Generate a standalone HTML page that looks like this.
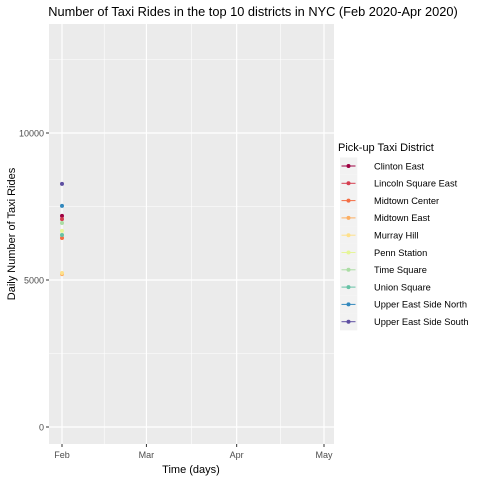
<!DOCTYPE html>
<html><head><meta charset="utf-8"><style>
body{margin:0;background:#fff;font-family:"Liberation Sans",Arial,sans-serif}
svg text{font-family:"Liberation Sans",Arial,sans-serif}
</style></head><body>
<svg id="c" width="480" height="480" xmlns="http://www.w3.org/2000/svg"></svg>
<script>
const districts=["Clinton East","Lincoln Square East","Midtown Center","Midtown East","Murray Hill","Penn Station","Time Square","Union Square","Upper East Side North","Upper East Side South"];
const colors=["#9E0142","#D53E4F","#F46D43","#FDAE61","#FEE08B","#E6F598","#ABDDA4","#66C2A5","#3288BD","#5E4FA2"];
const rides=[7180,7070,6430,5200,5240,6670,6940,6530,7520,8270];
const dayOffset=[0,0,0,0,0,0,0,0,0,0];
const yTicks=[0,5000,10000];
const xTickLabels=["Feb","Mar","Apr","May"];
const xTickDays=[0,29,60,90];
const NS="http://www.w3.org/2000/svg";
const svg=document.getElementById('c');
const L=49,R=334,T=24,B=444;
const yMin=-578,yMax=13707;
const x0=62,pxPerDay=(324-62)/90;
function xs(d){return x0+d*pxPerDay;}
function ys(v){return B-(v-yMin)/(yMax-yMin)*(B-T);}
function el(t,a,p){const e=document.createElementNS(NS,t);for(const k in a)e.setAttribute(k,a[k]);(p||svg).appendChild(e);return e;}
const panel=el('rect',{x:L,y:T,width:R-L,height:B-T,fill:'#EBEBEB'});


for(let i=0;i<yTicks.length;i++){const v=yTicks[i]+2500;const g=el('line',{x1:L,x2:R,y1:ys(v),y2:ys(v),stroke:'#fff','stroke-width':0.6});

}
for(let i=0;i<xTickDays.length-1;i++){const d=(xTickDays[i]+xTickDays[i+1])/2;const g=el('line',{x1:xs(d),x2:xs(d),y1:T,y2:B,stroke:'#fff','stroke-width':0.6});

}
yTicks.forEach(v=>{const y=ys(v);
const g=el('line',{x1:L,x2:R,y1:y,y2:y,stroke:'#fff','stroke-width':1.2});


el('line',{x1:L-3,x2:L,y1:y,y2:y,stroke:'#333','stroke-width':1});
const t=el('text',{x:L-5,y:y+3.5,'text-anchor':'end','font-size':9,fill:'#4D4D4D'});t.textContent=v;

});
xTickDays.forEach((d,i)=>{const x=xs(d);
const g=el('line',{x1:x,x2:x,y1:T,y2:B,stroke:'#fff','stroke-width':1.2});


el('line',{x1:x,x2:x,y1:B,y2:B+3,stroke:'#333','stroke-width':1});
const t=el('text',{x:x,y:B+14,'text-anchor':'middle','font-size':9,fill:'#4D4D4D'});t.textContent=xTickLabels[i];

});
rides.forEach((v,i)=>{const p=el('circle',{cx:xs(dayOffset[i]),cy:ys(v),r:2,fill:colors[i]});

});
let t=el('text',{x:253,y:16,'text-anchor':'middle','font-size':12.8,fill:'#000'});t.textContent="Number of Taxi Rides in the top 10 districts in NYC (Feb 2020-Apr 2020)";


t=el('text',{x:191,y:473,'text-anchor':'middle','font-size':11,fill:'#000'});t.textContent="Time (days)";


t=el('text',{x:0,y:0,'text-anchor':'middle','font-size':11,fill:'#000',transform:'translate(15,234) rotate(-90)'});t.textContent="Daily Number of Taxi Rides";


t=el('text',{x:338,y:151,'font-size':11,fill:'#000'});t.textContent="Pick-up Taxi District";


districts.forEach((d,i)=>{const y=166+i*17.3;
const g=el('g',{});


el('rect',{x:340,y:y-8.6,width:17.3,height:17.3,fill:'#F2F2F2'},g);
el('line',{x1:341.5,x2:355.5,y1:y,y2:y,stroke:colors[i],'stroke-width':1},g);
el('circle',{cx:348.5,cy:y,r:2,fill:colors[i]},g);
const tx=el('text',{x:374,y:y+3.3,'font-size':9.3,fill:'#000'},g);tx.textContent=d;});
</script>
</body></html>
